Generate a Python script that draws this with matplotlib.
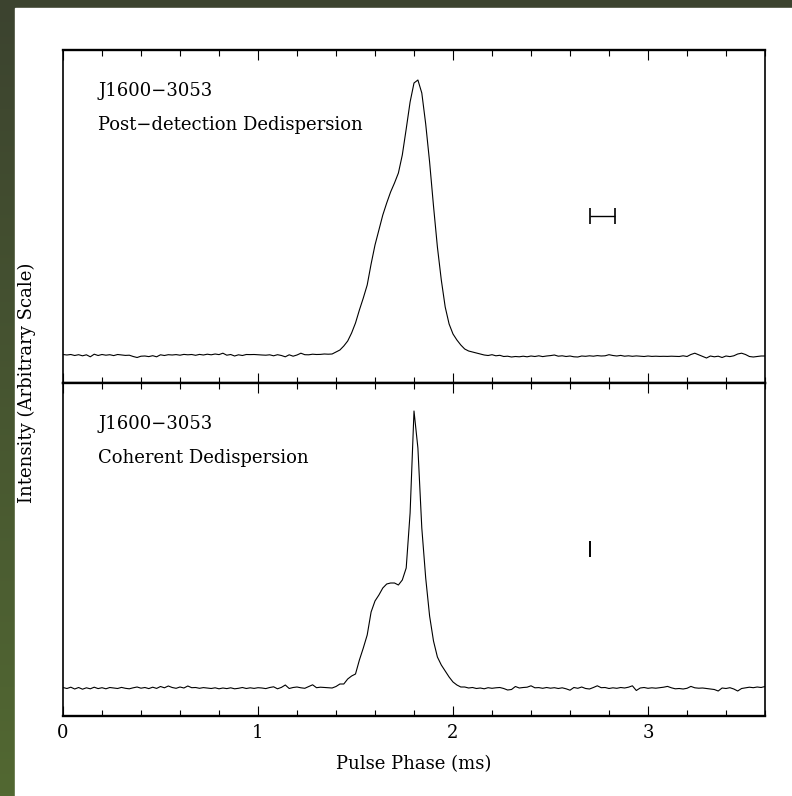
import numpy as np
import matplotlib
matplotlib.use("Agg")
import matplotlib.pyplot as plt
from matplotlib.patches import Rectangle
from matplotlib.ticker import MultipleLocator

plt.rcParams['font.family'] = ['DejaVu Serif']
plt.rcParams['font.size'] = 13

# pulse phase bins (ms), 0.02 ms spacing over one period
phase = np.round(np.arange(0, 3.6001, 0.02), 2)

# post-detection dedispersion profile (arbitrary units)
post_off_left = [
    0.5, 0, 0.5, -0.5, 0.3, -0.8, 0.2, -1.8, 0.8, -0.5,
    0.5, -0.2, 0.3, -0.6, 0.5, 0, -0.4, -0.2, -1.5, -2.5,
    -1.2, -1.0, -1.6, -0.7, -1.8, 0.2, -0.5, 0.3, 0, 0.4,
    -0.2, 0.6, 0.2, 0.5, -0.3, 0.6, 0, 0.8, 0.2, 1.0,
    0.4, 1.8, -0.2, 0.5, -1.0, 0.2, -0.5, 0.5, 0.4, 0.5,
    0.2, 0, -0.2, 0.2, -0.8, 0.3, -0.5, -1.8, 0.2, -1.2,
    0, 1.8, 0.3, 0.2, 0.8, 0.5, 0.6, 1.0, 0.8]
post_pulse = [
    1, 3, 5, 9, 14, 22, 32, 45, 57, 70,
    91, 110, 125, 140, 152, 163, 172, 182, 200, 226,
    253, 272, 275, 262, 231, 193, 149, 108, 75, 48,
    31, 21, 15, 10, 6, 4, 3, 2, 1, 0]
post_off_right = [
    -0.5, 0.3, -0.8, -0.3, -1.5, -1.2, -2, -1.5, -1.8, -1.2,
    -1.8, -1.0, -1.5, -0.8, -1.6, -1.0, -0.6, 0, -1.2, -0.8,
    -1.5, -1.0, -1.8, -2.0, -1.0, -1.3, -0.8, -1.2, -0.6, -1.0,
    -0.8, 0.3, -0.5, -1.0, -0.4, -1.2, -0.8, -1.3, -0.9, -1.2,
    -1.5, -1.0, -1.4, -1.2, -1.4, -1.3, -1.4, -1.2, -1.4, -1.5,
    -0.8, -1.5, 0.5, 1.8, 0.2, -1.5, -3.0, -1.0, -1.8, -1.2,
    -2.5, -1.0, -1.6, -0.8, 1.0, 1.8, 0.5, -1.5, -2.0, -1.5,
    -1.0, -1.0]

# coherent dedispersion profile (arbitrary units)
coh_off_left = [
    0.5, -0.5, 0.8, -1.0, 0.5, -1.2, 0.2, -0.8, 0.8, -0.6,
    0.3, -0.8, 0.5, 0, -0.5, 0.6, -0.3, -0.8, 0.2, 1.0,
    -0.2, 0.5, -0.6, 0.8, -0.4, 1.5, 0.2, 2.0, 0.5, -0.3,
    1.0, 0, 2.0, 0.3, 0.5, -0.3, 0.4, 0, -0.5, 0.2,
    -0.8, 0, -0.6, 0.2, -0.8, -0.3, 0.5, -0.5, 0.2, -0.4,
    0.3, 0, -0.6, 0.5, 1.2, -0.8, 0.6, 3.0, -0.5, 0.5,
    1.0, 0.2, -0.3, 1.5, 3.2, 0.3, 0.8, 0.5, 0.2]
coh_pulse = [
    0, 1.5, 4, 4, 9, 12, 14, 28, 40, 53,
    76, 87, 93, 100, 104, 105, 105, 103, 108, 120,
    175, 277, 240, 160, 110, 72, 47, 31, 23, 17,
    11, 6, 3, 1, 1, 0, 0.5, -0.5, 0, -0.8]
coh_off_right = [
    0.3, -0.3, 0.2, 0.5, -0.5, -2.0, -1.5, 1.5, 0, 0.5,
    0.8, 2.2, 0.2, 0.4, -0.3, 0.5, -0.2, 0.3, -0.5, 0.2,
    -0.8, -2.2, 0.5, -0.3, 1.0, -0.5, -1.0, 0.5, 2.2, 0.3,
    0.5, -0.5, 0.2, -0.3, 0.5, 0, 0.8, 2.2, -2.5, 0,
    0.5, -0.3, 0.2, -0.2, 0.3, 0.8, 1.6, 0.2, -0.8, -0.5,
    -1.0, -0.3, 1.6, 0.2, -0.2, 0, -0.5, -1.0, -1.5, -3.0,
    0, -0.5, 0.3, -1.0, -3.0, -0.5, 0.2, 0.8, 0.3, 1.0,
    0.5, 1.5]

post_profile = np.array(post_off_left + post_pulse + post_off_right)
coh_profile = np.array(coh_off_left + coh_pulse + coh_off_right)

# smearing / resolution bars: centre, half-width, level
bar_centre = [2.765, 2.70]
bar_halfwidth = [0.065, 0.0]
bar_level = [139, 139]

labels = ["Post\u2212detection Dedispersion", "Coherent Dedispersion"]
psr = "J1600\u22123053"

fig = plt.figure(figsize=(7.92, 7.96), dpi=100)

# green framed background
bg = fig.add_axes([0, 0, 1, 1], zorder=-10)
grad = np.linspace(0, 1, 256)[:, None]
cols = np.array([[60, 67, 47], [82, 104, 50]]) / 255.0
img = cols[0] + grad[..., None] * (cols[1] - cols[0])
img = np.repeat(img, 2, axis=1)
bg.imshow(img, extent=[0, 1, 0, 1], origin='upper', aspect='auto')
bg.add_patch(Rectangle((15 / 792, 0), 1, 1 - 8 / 796, color='white'))
bg.set_xlim(0, 1)
bg.set_ylim(0, 1)
bg.axis('off')

left, width = 63 / 792, 702 / 792
h = 333 / 796
ax_top = fig.add_axes([left, 1 - 383 / 796, width, h])
ax_bot = fig.add_axes([left, 1 - 716 / 796, width, h])

for i, (ax, prof) in enumerate([(ax_top, post_profile), (ax_bot, coh_profile)]):
    ax.plot(phase, prof, color='black', lw=0.8)
    ax.errorbar(bar_centre[i], bar_level[i], xerr=bar_halfwidth[i],
                color='black', elinewidth=1.0, capsize=5.6, capthick=1.2)
    ax.set_xlim(0, 3.6)
    ax.set_ylim(-28, 305)
    ax.set_yticks([])
    ax.xaxis.set_major_locator(MultipleLocator(1))
    ax.xaxis.set_minor_locator(MultipleLocator(0.2))
    ax.tick_params(axis='x', which='both', direction='in', top=True, bottom=True,
                   width=0.8, pad=6)
    ax.tick_params(axis='x', which='major', length=7.5)
    ax.tick_params(axis='x', which='minor', length=4.3)
    for side in ['top', 'bottom']:
        ax.spines[side].set_linewidth(1.7)
    for side in ['left', 'right']:
        ax.spines[side].set_linewidth(1.2)
    ax.text(0.05, 0.861, psr, transform=ax.transAxes, va='baseline', ha='left')
    ax.text(0.05, 0.761, labels[i], transform=ax.transAxes, va='baseline', ha='left')

ax_top.tick_params(axis='x', labelbottom=False)
ax_bot.set_xlabel("Pulse Phase (ms)", labelpad=9)
fig.text(27 / 792, 1 - 383 / 796, "Intensity (Arbitrary Scale)", rotation=90,
         ha='center', va='center')

fig.savefig("out.png", dpi=100)
